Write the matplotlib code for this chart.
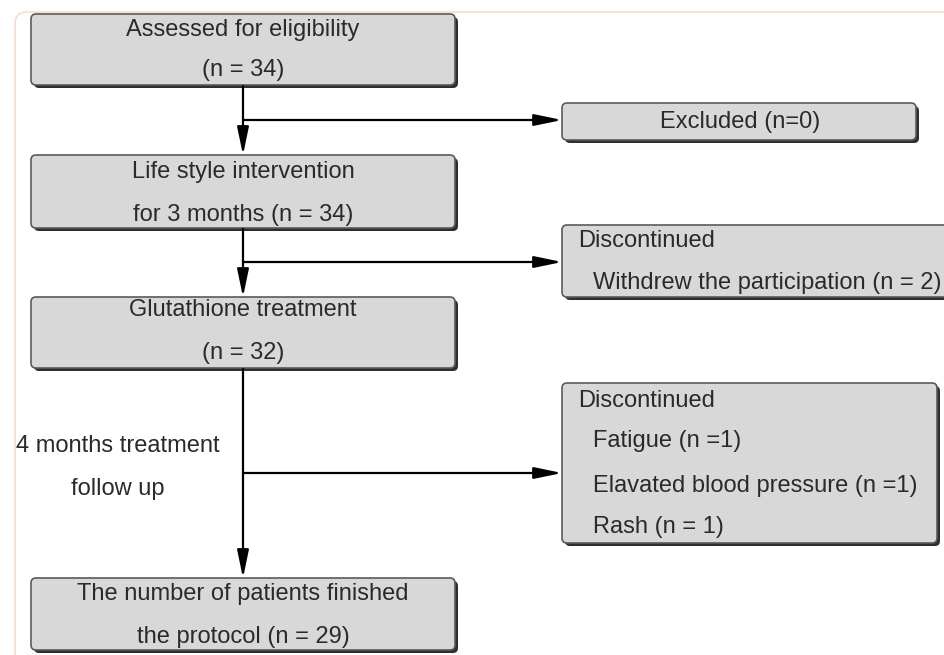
import matplotlib
matplotlib.use("Agg")
import matplotlib.pyplot as plt
from matplotlib.patches import FancyBboxPatch

plt.rcParams['font.family'] = ['Liberation Sans', 'DejaVu Sans']

# ---- data ----
stage_labels = ["Assessed for eligibility", "Life style intervention\nfor 3 months", "Glutathione treatment",
                "The number of patients finished\nthe protocol"]
stage_counts = [34, 34, 32, 29]
excluded_count = 0
withdrew_count = 2
ae_reasons = ["Fatigue", "Elavated blood pressure", "Rash"]
ae_counts = [1, 1, 1]
followup_label = "4 months treatment\nfollow up"

W, H = 945, 655
fig = plt.figure(figsize=(W / 100, H / 100), dpi=100)
ax = fig.add_axes([0, 0, 1, 1])
ax.set_xlim(0, W)
ax.set_ylim(H, 0)
ax.axis('off')

# outer frame
ax.add_patch(FancyBboxPatch((15, 12), 960, 670, boxstyle="round,pad=0,rounding_size=12",
                            fc='white', ec='#f6dccf', lw=1.2, zorder=0))

FILL = '#d8d8d8'
EDGE = '#5a5a5a'
SHADOW = '#2e2e2e'
FS = 17


def box(x0, y0, x1, y1):
    ax.add_patch(FancyBboxPatch((x0 + 3, y0 + 3), x1 - x0, y1 - y0,
                                boxstyle="round,pad=0,rounding_size=5",
                                fc=SHADOW, ec='none', zorder=1))
    ax.add_patch(FancyBboxPatch((x0, y0), x1 - x0, y1 - y0,
                                boxstyle="round,pad=0,rounding_size=5",
                                fc=FILL, ec=EDGE, lw=1.2, zorder=2))


def arrow(x0, y0, x1, y1):
    ax.annotate("", xy=(x1, y1), xytext=(x0, y0),
                arrowprops=dict(arrowstyle='-|>,head_length=1.2,head_width=0.25',
                                color='black', lw=1.6, shrinkA=0, shrinkB=0,
                                mutation_scale=14), zorder=3)


def txt(x, y, s, ha='center'):
    ax.text(x, y, s, ha=ha, va='center', fontsize=FS, color='#2a2a2a', zorder=4)


# left stage boxes
left_boxes = [(31, 14, 455, 85), (31, 155, 455, 228), (31, 297, 455, 368), (31, 578, 455, 650)]
line_y = [(30, 70), (172, 215), (310, 353), (594, 637)]
cx = 243
for (b, lbl, n, ys) in zip(left_boxes, stage_labels, stage_counts, line_y):
    box(*b)
    parts = lbl.split("\n")
    if len(parts) == 2:
        txt(cx, ys[0], parts[0])
        txt(cx, ys[1], f"{parts[1]} (n = {n})")
    else:
        txt(cx, ys[0], parts[0])
        txt(cx, ys[1], f"(n = {n})")

# right boxes
box(562, 103, 916, 140)
txt(740, 122, f"Excluded (n={excluded_count})")

box(562, 225, 960, 297)
txt(578, 241, "Discontinued", ha='left')
txt(593, 283, f"Withdrew the participation (n = {withdrew_count})", ha='left')

box(562, 383, 937, 543)
txt(578, 401, "Discontinued", ha='left')
for r, c, y in zip(ae_reasons, ae_counts, [441, 486, 527]):
    sp = " = " if r == "Rash" else " ="
    txt(593, y, f"{r} (n{sp}{c})", ha='left')

# arrows
arrow(cx, 86, cx, 155)
arrow(cx, 120, 562, 120)
arrow(cx, 229, cx, 297)
arrow(cx, 262, 562, 262)
arrow(cx, 369, cx, 578)
arrow(cx, 473, 562, 473)

# follow-up label
l1, l2 = followup_label.split("\n")
txt(118, 446, l1)
txt(118, 489, l2)

fig.savefig("out.png", dpi=100)
